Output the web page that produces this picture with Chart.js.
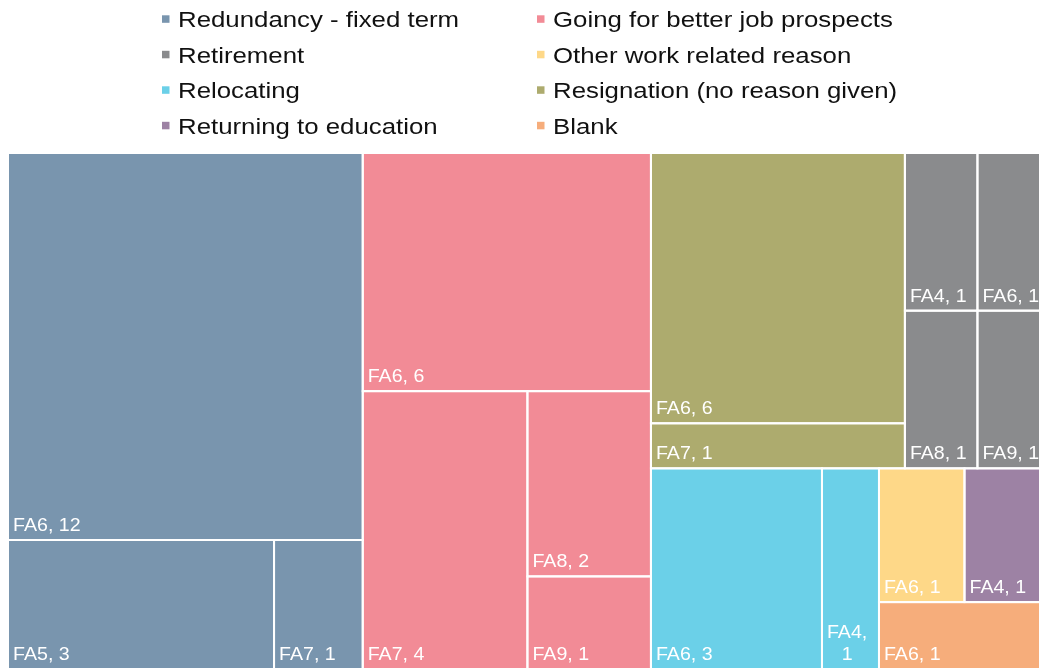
<!DOCTYPE html>
<html>
<head>
<meta charset="utf-8">
<script src="https://cdn.jsdelivr.net/npm/chart.js@4.4.1/dist/chart.umd.min.js"></script>
<style>
  html, body { margin: 0; padding: 0; overflow: hidden; background: #fff; }
  #wrap { width: 1039px; height: 669px; }
</style>
</head>
<body>
<div id="wrap"><canvas id="treemap" width="1039" height="669"></canvas></div>
<script>
// leaving reasons, in legend order
const reasons = [
    'Redundancy - fixed term', 'Going for better job prospects',
    'Retirement', 'Other work related reason',
    'Relocating', 'Resignation (no reason given)',
    'Returning to education', 'Blank'
];
const reasonColours = ['#7995ae', '#f28b96', '#8a8b8d', '#fed888', '#6bd0e8', '#adab6e', '#9d82a4', '#f6ad7b'];

// functional areas and leaver counts for each reason
const areaLabels = [
    ['FA6', 'FA5', 'FA7'],
    ['FA6', 'FA7', 'FA8', 'FA9'],
    ['FA4', 'FA6', 'FA8', 'FA9'],
    ['FA6'],
    ['FA6', 'FA4'],
    ['FA6', 'FA7'],
    ['FA4'],
    ['FA6']
];
const leaverCounts = [
    [12, 3, 1],
    [6, 4, 2, 1],
    [1, 1, 1, 1],
    [1],
    [3, 1],
    [6, 1],
    [1],
    [1]
];

// the original is cropped on the right, only this share of the map shows
const VISIBLE_SHARE = 1031 / 1042;
const TARGET_RATIO = 1.35; // preferred height / width of a tile

function tileScore(w, h) {
    const a = h / w / TARGET_RATIO;
    return a > 1 ? a : 1 / a;
}

// squarified layout, values sorted big to small
function squarify(values, x, y, w, h) {
    const out = [];
    let rest = values.reduce((a, b) => a + b, 0);
    let i = 0;
    while (i < values.length) {
        const across = w < h;
        const side = across ? w : h, depth = across ? h : w;
        const worst = (j) => {
            let s = 0;
            for (let k = i; k < j; k++) s += values[k];
            const t = depth * s / rest;
            let m = 0;
            for (let k = i; k < j; k++) {
                const l = side * values[k] / s;
                m = Math.max(m, across ? tileScore(l, t) : tileScore(t, l));
            }
            return m;
        };
        let j = i + 1, best = worst(j);
        while (j < values.length) {
            const s = worst(j + 1);
            if (s > best) break;
            best = s;
            j++;
        }
        let sum = 0;
        for (let k = i; k < j; k++) sum += values[k];
        const t = depth * sum / rest;
        let off = 0;
        for (let k = i; k < j; k++) {
            const l = side * values[k] / sum;
            out.push(across ? {x: x + off, y: y, w: l, h: t} : {x: x, y: y + off, w: t, h: l});
            off += l;
        }
        if (across) { y += t; h -= t; } else { x += t; w -= t; }
        rest -= sum;
        i = j;
    }
    return out;
}

function buildCells(W, H) {
    const groups = reasons.map((r, i) => {
        const items = areaLabels[i].map((a, k) => ({area: a, count: leaverCounts[i][k]}))
            .sort((p, q) => q.count - p.count);
        return {reason: i, items: items, total: items.reduce((s, it) => s + it.count, 0)};
    }).sort((p, q) => q.total - p.total);

    const groupRects = squarify(groups.map(g => g.total), 0, 0, W, H);
    const cells = [];
    groups.forEach((g, gi) => {
        const gr = groupRects[gi];
        const rects = squarify(g.items.map(it => it.count), gr.x, gr.y, gr.w, gr.h);
        g.items.forEach((it, k) => {
            const r = rects[k];
            cells.push({
                reason: g.reason, area: it.area, count: it.count,
                x0: r.x / W, x1: (r.x + r.w) / W, y0: r.y / H, y1: (r.y + r.h) / H
            });
        });
    });
    return cells;
}

const treemapPlugin = {
    id: 'treemapCells',
    beforeDatasetsDraw(chart) {
        const {ctx, chartArea} = chart;
        const xs = chart.scales.x, ys = chart.scales.y;
        // full map size in pixels, taken from the scales
        const W = Math.abs(xs.getPixelForValue(1) - xs.getPixelForValue(0));
        const H = Math.abs(ys.getPixelForValue(1) - ys.getPixelForValue(0));
        const cells = buildCells(W, H);
        const boxes = cells.map(c => ({
            c: c,
            l: xs.getPixelForValue(c.x0), r: xs.getPixelForValue(c.x1),
            t: ys.getPixelForValue(c.y0), b: ys.getPixelForValue(c.y1)
        }));
        ctx.save();
        boxes.forEach(bx => {
            ctx.fillStyle = reasonColours[bx.c.reason];
            ctx.fillRect(bx.l, bx.t, bx.r - bx.l, bx.b - bx.t);
        });
        ctx.strokeStyle = '#ffffff';
        ctx.lineWidth = 2;
        boxes.forEach(bx => ctx.strokeRect(bx.l, bx.t, bx.r - bx.l, bx.b - bx.t));

        // labels, bottom left
        const sx = 1.06;
        ctx.font = '18.5px "Liberation Sans", Arial, sans-serif';
        ctx.fillStyle = '#ffffff';
        ctx.textBaseline = 'alphabetic';
        boxes.forEach(bx => {
            const text = bx.c.area + ', ' + bx.c.count;
            const room = bx.r - bx.l - 10;
            let lines = [text];
            if (ctx.measureText(text).width * sx > room) lines = text.split(' ');
            const widths = lines.map(s => ctx.measureText(s).width * sx);
            const blockW = Math.max(...widths);
            const x = bx.l + 5;
            lines.forEach((s, k) => {
                const yy = bx.b - 9 - (lines.length - 1 - k) * 22;
                ctx.save();
                ctx.translate(x + (blockW - widths[k]) / 2, yy);
                ctx.scale(sx, 1);
                ctx.fillText(s, 0, 0);
                ctx.restore();
            });
        });
        ctx.restore();
    }
};

const legendPlugin = {
    id: 'twoColumnLegend',
    afterDraw(chart) {
        const ctx = chart.ctx;
        const sx = 1.2;
        ctx.save();
        ctx.font = '21.5px "Liberation Sans", Arial, sans-serif';
        ctx.textBaseline = 'alphabetic';
        reasons.forEach((r, i) => {
            const col = i % 2, row = Math.floor(i / 2);
            const tx = col ? 553 : 178;
            const ty = 27.3 + row * 35.5;
            ctx.fillStyle = reasonColours[i];
            ctx.fillRect(tx - 16, ty - 12, 7.5, 7.5);
            ctx.fillStyle = '#111111';
            ctx.save();
            ctx.translate(tx, ty);
            ctx.scale(sx, 1);
            ctx.fillText(r, 0, 0);
            ctx.restore();
        });
        ctx.restore();
    }
};

new Chart(document.getElementById('treemap'), {
    type: 'scatter',
    data: {
        datasets: reasons.map((r, i) => ({label: r, data: [], backgroundColor: reasonColours[i]}))
    },
    options: {
        responsive: false,
        animation: false,
        layout: { padding: { left: 8, top: 153, right: 0, bottom: 0 } },
        scales: {
            x: { type: 'linear', min: 0, max: VISIBLE_SHARE, display: false },
            y: { type: 'linear', min: 0, max: 1, reverse: true, display: false }
        },
        plugins: {
            legend: { display: false },
            tooltip: { enabled: false }
        }
    },
    plugins: [treemapPlugin, legendPlugin]
});
</script>
</body>
</html>
